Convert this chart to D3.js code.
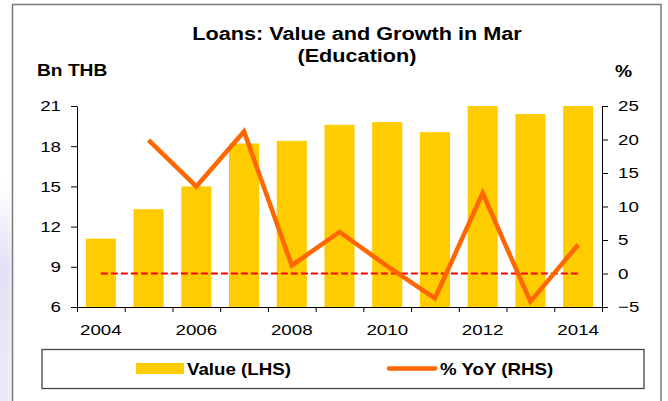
<!DOCTYPE html>
<html>
<head>
<meta charset="utf-8">
<script src="https://cdn.jsdelivr.net/npm/d3@7"></script>
<style>
  html, body { margin: 0; padding: 0; background: #fff; }
  svg { display: block; font-family: "Liberation Sans", Arial, sans-serif; }
</style>
</head>
<body>
<svg id="chart" width="668" height="401"></svg>
<script>
// Education loans outstanding in March (Bn THB) and year-on-year growth (%)
const years = [2004, 2005, 2006, 2007, 2008, 2009, 2010, 2011, 2012, 2013, 2014];
const loanValues = [11.1, 13.3, 15.0, 18.2, 18.4, 19.6, 19.8, 19.05, 21.3, 20.4, 21.3];
const yoyGrowth = [null, 19.9, 13.0, 21.2, 1.2, 6.2, 1.1, -3.7, 12.0, -4.2, 4.3];
const zeroBaseline = [0, 0, 0, 0, 0, 0, 0, 0, 0, 0, 0];
const leftTicks = [6, 9, 12, 15, 18, 21];
const rightTicks = [-5, 0, 5, 10, 15, 20, 25];
const yearLabels = [2004, 2006, 2008, 2010, 2012, 2014];

const BAR = "#ffcc00", LINE = "#ff6600", ZERO = "#ff0000";
const svg = d3.select("#chart");

const plot = { left: 77, right: 602, top: 106, bottom: 307 };

// widen glyphs horizontally while keeping each text anchored at its x
function stretch(sel, sx) {
  sel.each(function () {
    const t = d3.select(this);
    const x = +t.attr("x") || 0;
    t.attr("x", x / sx).attr("transform", `scale(${sx},1)`);
  });
}

// soft lavender tint along the left edge
const defs = svg.append("defs");
const haze = defs.append("linearGradient").attr("id", "haze")
  .attr("x1", 0).attr("y1", 0).attr("x2", 0).attr("y2", 1);
haze.append("stop").attr("offset", "0").attr("stop-color", "#e4e4f7").attr("stop-opacity", 0);
haze.append("stop").attr("offset", "0.35").attr("stop-color", "#e1e1f6").attr("stop-opacity", 1);
haze.append("stop").attr("offset", "1").attr("stop-color", "#e6e6f8").attr("stop-opacity", 0.8);
defs.append("filter").attr("id", "soft").append("feGaussianBlur").attr("stdDeviation", 3);
defs.append("clipPath").attr("id", "plotClip").append("rect")
  .attr("x", plot.left).attr("y", plot.top)
  .attr("width", plot.right - plot.left).attr("height", plot.bottom - plot.top);

svg.append("rect").attr("x", -6).attr("y", 180).attr("width", 18).attr("height", 240)
  .attr("fill", "url(#haze)").attr("filter", "url(#soft)");

// outer chart frame
svg.append("rect").attr("x", 12.5).attr("y", 4.5).attr("width", 648.5).attr("height", 430)
  .attr("fill", "#fff").attr("stroke", "#7a7a7a").attr("stroke-width", 1.5);

// scales
const x = d3.scaleBand().domain(years).range([plot.left, plot.right])
  .paddingInner(0.37).paddingOuter(0.185);
const yL = d3.scaleLinear().domain([6, 21]).range([plot.bottom, plot.top]);
const yR = d3.scaleLinear().domain([-5, 25]).range([plot.bottom, plot.top]);
const cx = d => x(d) + x.bandwidth() / 2;

// bars (values above the axis maximum are cut at the plot top)
svg.append("g").attr("clip-path", "url(#plotClip)")
  .selectAll("rect").data(years).join("rect")
  .attr("x", d => x(d))
  .attr("width", x.bandwidth())
  .attr("y", (d, i) => yL(loanValues[i]))
  .attr("height", (d, i) => yL(6) - yL(loanValues[i]))
  .attr("fill", BAR);

// zero growth reference line
svg.append("path")
  .datum(years.map((d, i) => [d, zeroBaseline[i]]))
  .attr("d", d3.line().x(d => cx(d[0])).y(d => yR(d[1])))
  .attr("fill", "none").attr("stroke", ZERO).attr("stroke-width", 2)
  .attr("stroke-dasharray", "7,3");

// growth line
svg.append("path")
  .datum(years.map((d, i) => [d, yoyGrowth[i]]).filter(d => d[1] !== null))
  .attr("d", d3.line().x(d => cx(d[0])).y(d => yR(d[1])))
  .attr("fill", "none").attr("stroke", LINE).attr("stroke-width", 4.5)
  .attr("stroke-linejoin", "miter").attr("stroke-miterlimit", 10);

// axes
function styleAxis(g) {
  g.selectAll(".domain").attr("stroke", "#000").attr("stroke-width", 1);
  g.selectAll(".tick line").attr("stroke", "#000").attr("stroke-width", 1);
  g.selectAll("text").attr("fill", "#000").attr("font-size", 15)
    .attr("font-family", "Liberation Sans, Arial, sans-serif")
    .call(stretch, 1.25);
}

svg.append("g").attr("transform", `translate(${plot.left},0)`)
  .call(d3.axisLeft(yL).tickValues(leftTicks).tickSize(6).tickPadding(10).tickSizeOuter(0))
  .call(styleAxis);

svg.append("g").attr("transform", `translate(${plot.right},0)`)
  .call(d3.axisRight(yR).tickValues(rightTicks).tickSize(6).tickPadding(10).tickSizeOuter(0))
  .call(styleAxis);

// category boundary ticks along the base
const boundary = d3.scaleLinear().domain([0, years.length]).range([plot.left, plot.right]);
svg.append("g").attr("transform", `translate(0,${plot.bottom})`)
  .call(d3.axisBottom(boundary).tickValues(d3.range(years.length + 1))
    .tickSize(5).tickSizeOuter(0).tickFormat(""))
  .call(styleAxis);

svg.append("g").attr("transform", `translate(0,${plot.bottom})`)
  .call(d3.axisBottom(x).tickValues(yearLabels).tickSize(0).tickPadding(17))
  .call(styleAxis)
  .call(g => g.select(".domain").remove());

// titles
const title = svg.append("text").attr("text-anchor", "middle")
  .attr("font-weight", "bold").attr("font-size", 19).attr("fill", "#000");
title.append("tspan").attr("x", 357).attr("y", 40).text("Loans: Value and Growth in Mar");
title.append("tspan").attr("x", 357).attr("y", 62.5).text("(Education)");
title.attr("transform", "scale(1.14,1)").selectAll("tspan").attr("x", 357 / 1.14);

svg.append("text").attr("x", 37).attr("y", 76).attr("font-weight", "bold")
  .attr("font-size", 16).text("Bn THB").call(stretch, 1.2);
svg.append("text").attr("x", 615).attr("y", 77).attr("font-weight", "bold")
  .attr("font-size", 16).text("%").call(stretch, 1.2);

// legend
const legend = svg.append("g");
legend.append("rect").attr("x", 42).attr("y", 349.5).attr("width", 602).attr("height", 39)
  .attr("fill", "#fff").attr("stroke", "#444").attr("stroke-width", 1.3);
legend.append("rect").attr("x", 136).attr("y", 363).attr("width", 48).attr("height", 11)
  .attr("fill", BAR);
legend.append("text").attr("x", 187).attr("y", 375).attr("font-weight", "bold")
  .attr("font-size", 16).text("Value (LHS)").call(stretch, 1.17);
legend.append("line").attr("x1", 389).attr("x2", 435).attr("y1", 368.5).attr("y2", 368.5)
  .attr("stroke", LINE).attr("stroke-width", 4.5).attr("stroke-linecap", "round");
legend.append("text").attr("x", 440).attr("y", 375).attr("font-weight", "bold")
  .attr("font-size", 16).text("% YoY (RHS)").call(stretch, 1.17);
</script>
</body>
</html>
